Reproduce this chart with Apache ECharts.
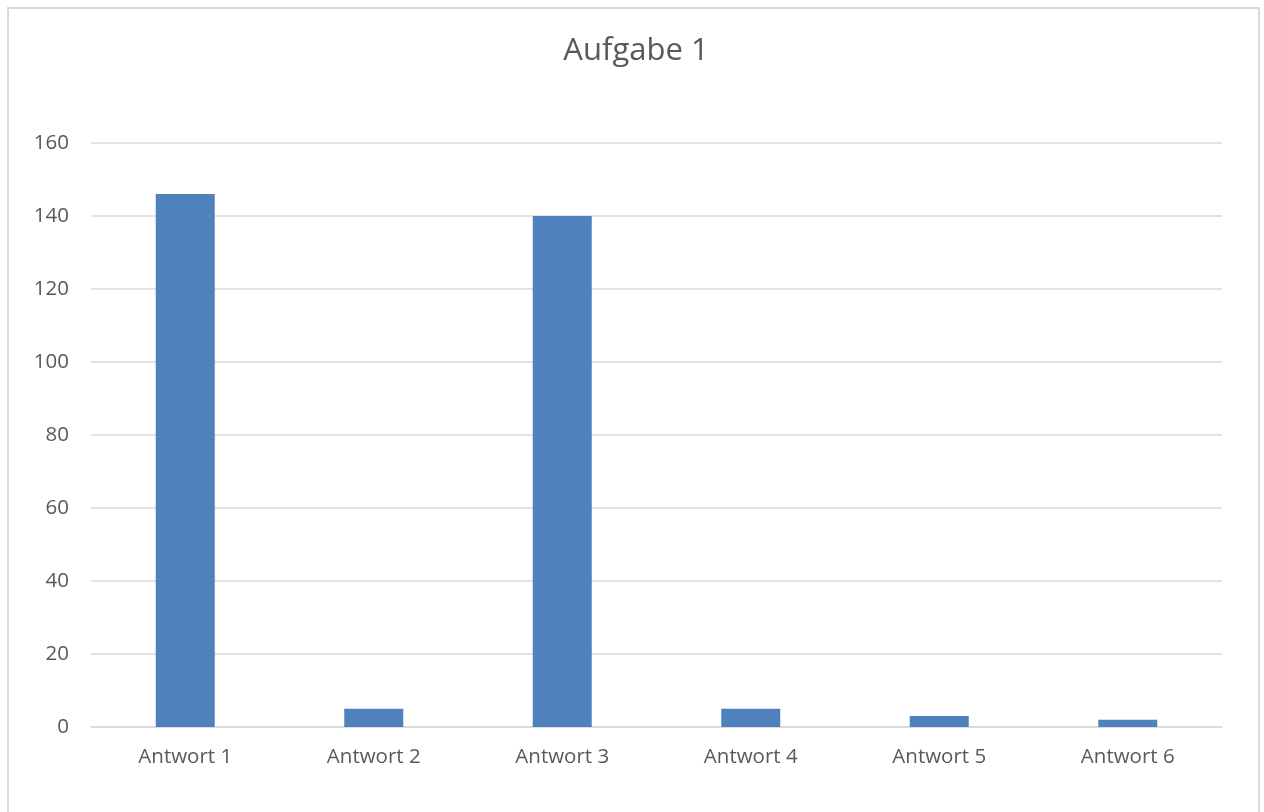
<!DOCTYPE html>
<html><head><meta charset="utf-8">
<script src="https://cdn.jsdelivr.net/npm/echarts@6/dist/echarts.min.js"></script>
<style>
html,body{margin:0;padding:0;background:#fff;}
#frame{position:absolute;left:7px;top:7px;width:1253px;height:820px;border:2px solid #d9d9d9;box-sizing:border-box;}
#c{position:absolute;left:0;top:0;width:1264px;height:812px;}
</style></head>
<body>
<div id="frame"></div>
<div id="c"></div>
<script>
const categories = ['Antwort 1','Antwort 2','Antwort 3','Antwort 4','Antwort 5','Antwort 6'];
const values = [146, 5, 140, 5, 3, 2];
const yTicks = {min:0, max:160, interval:20};

const chart = echarts.init(document.getElementById('c'), null, {renderer:'canvas'});
const font = '"Open Sans", sans-serif';
chart.setOption({
  animation:false,
  title:{text:'Aufgabe 1', left:631, top:31, textAlign:'center',
    textStyle:{fontFamily:font, fontSize:31, fontWeight:'normal', color:'#595959'}},
  grid:{left:91, right:42, top:143, bottom:85, containLabel:false},
  xAxis:{type:'category', data:categories,
    axisLine:{lineStyle:{color:'#d9d9d9', width:1.5}},
    axisTick:{show:false},
    axisLabel:{fontFamily:font, fontSize:20.5, color:'#595959', margin:20}},
  yAxis:{type:'value', min:yTicks.min, max:yTicks.max, interval:yTicks.interval,
    axisLine:{show:false}, axisTick:{show:false},
    splitLine:{lineStyle:{color:'#d9d9d9', width:1.5}},
    axisLabel:{fontFamily:font, fontSize:20.5, color:'#595959', margin:22}},
  series:[{type:'bar', data:values, barWidth:59,
    itemStyle:{color:'#4f81bd'}}]
});
</script>
</body></html>
